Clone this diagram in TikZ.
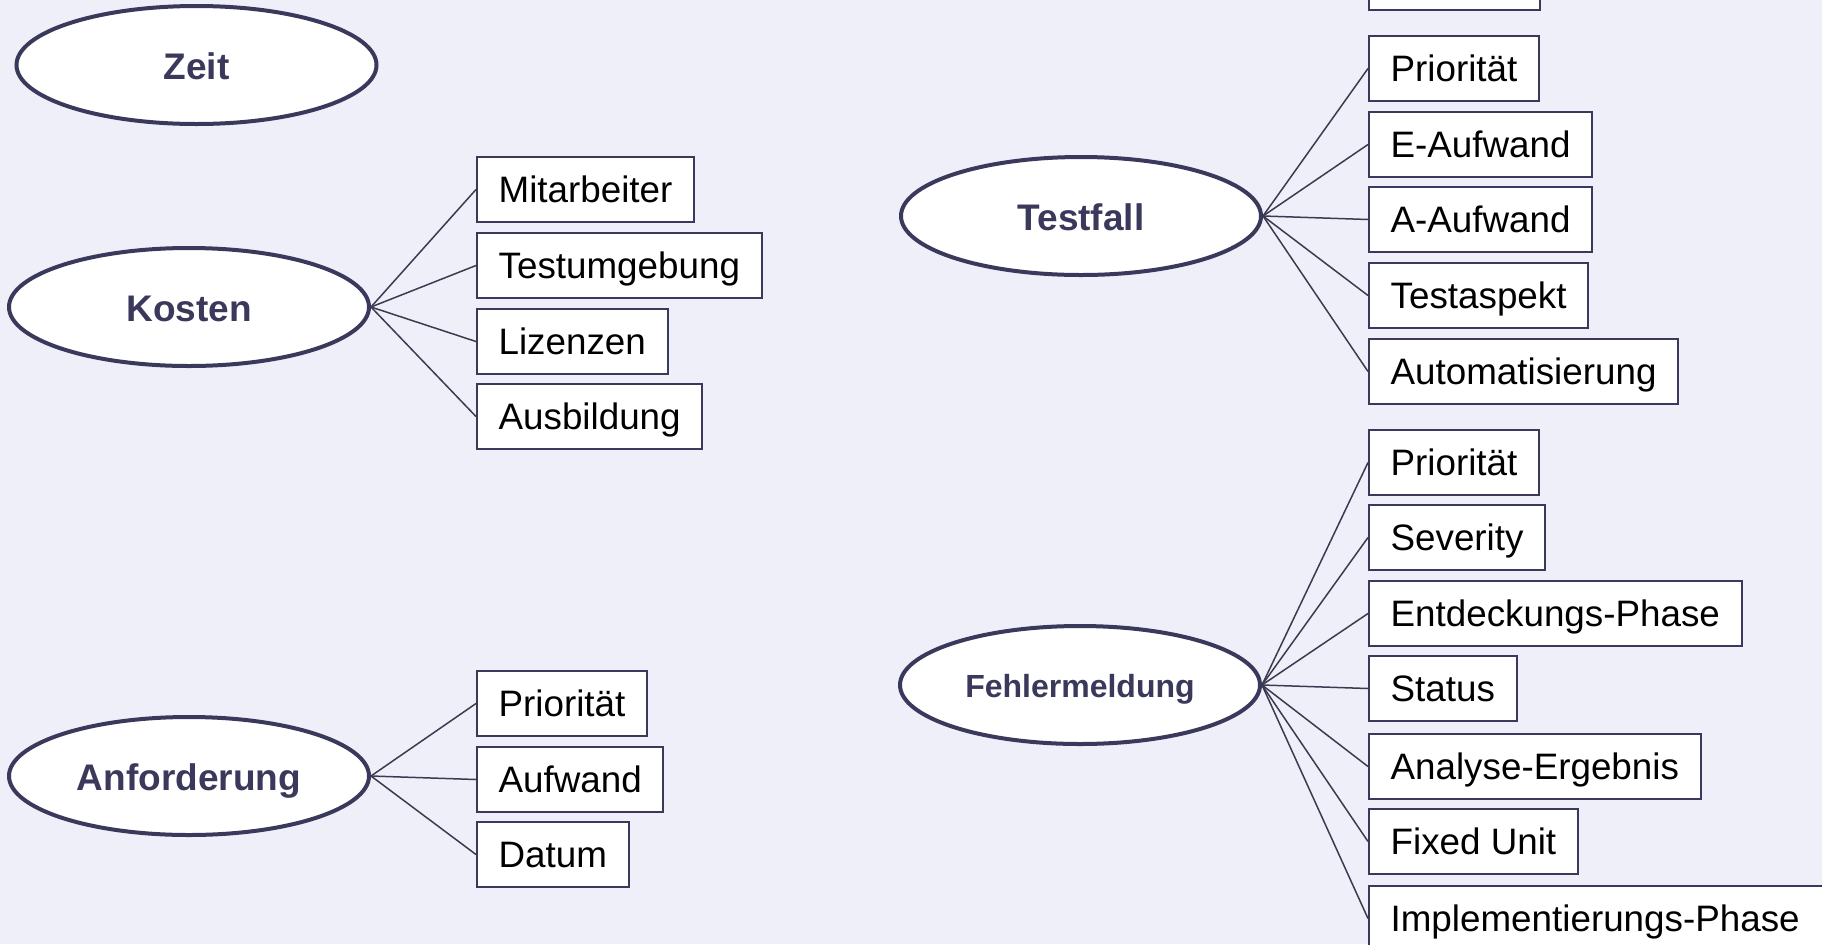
\documentclass[tikz,border=0pt]{standalone}
\usepackage{fontspec}
\setmainfont{Liberation Sans}
\usetikzlibrary{shapes.geometric}
\definecolor{bg}{RGB}{239,239,250}
\definecolor{edgec}{RGB}{58,57,92}
\definecolor{ltext}{RGB}{58,57,92}
\definecolor{conn}{RGB}{60,58,80}
\begin{document}
\begin{tikzpicture}[x=0.5pt,y=-0.5pt,
 ent/.style={ellipse, draw=edgec, line width=2pt, fill=white, minimum width=180pt, minimum height=59pt, text=ltext, font=\bfseries\fontsize{18.5}{20}\selectfont, inner sep=0pt, text height=14pt, text depth=0pt},
 attr/.style={draw=edgec, line width=1pt, fill=white, anchor=north west, minimum height=32.5pt, inner xsep=10.8pt, inner ysep=0pt, font=\fontsize{18.4}{20}\selectfont, text=black, text height=14pt, text depth=1.5pt},
 link/.style={draw=conn, line width=0.75pt}]
\clip (0,0) rectangle (1822,944);
\fill[bg] (0,0) rectangle (1822,944);

% entities
\node[ent] (zeit) at (196.5,65) {Zeit};
\node[ent] (kosten) at (189,307) {Kosten};
\node[ent] (anf) at (189,776) {Anforderung};
\node[ent] (testfall) at (1081,216) {Testfall};
\node[ent, font=\bfseries\fontsize{16}{18}\selectfont, text height=12pt] (fehler) at (1080,685) {Fehlermeldung};

% Kosten attributes
\node[attr] (k1) at (476,156) {Mitarbeiter};
\node[attr] (k2) at (476,232) {Testumgebung};
\node[attr] (k3) at (476,308) {Lizenzen};
\node[attr] (k4) at (476,383) {Ausbildung};

% Anforderung attributes
\node[attr] (a1) at (476,670) {Priorität};
\node[attr] (a2) at (476,746) {Aufwand};
\node[attr] (a3) at (476,821) {Datum};

% Testfall attributes
\node[attr, minimum width=85.5pt] (t0) at (1368,-56) {};
\node[attr] (t1) at (1368,35) {Priorität};
\node[attr] (t2) at (1368,111) {E-Aufwand};
\node[attr] (t3) at (1368,186) {A-Aufwand};
\node[attr] (t4) at (1368,262) {Testaspekt};
\node[attr] (t5) at (1368,338) {Automatisierung};

% Fehlermeldung attributes
\node[attr] (f1) at (1368,429) {Priorität};
\node[attr] (f2) at (1368,504) {Severity};
\node[attr] (f3) at (1368,580) {Entdeckungs-Phase};
\node[attr] (f4) at (1368,655) {Status};
\node[attr] (f5) at (1368,733) {Analyse-Ergebnis};
\node[attr] (f6) at (1368,808) {Fixed Unit};
\node[attr, text width=208pt, align=left] (f7) at (1368,885) {Implementierungs-Phase};

% connectors
\foreach \b in {k1,k2,k3,k4} \draw[link] (kosten.east) -- (\b.west);
\foreach \b in {a1,a2,a3} \draw[link] (anf.east) -- (\b.west);
\foreach \b in {t1,t2,t3,t4,t5} \draw[link] (testfall.east) -- (\b.west);
\foreach \b in {f1,f2,f3,f4,f5,f6,f7} \draw[link] (fehler.east) -- (\b.west);
\end{tikzpicture}
\end{document}
